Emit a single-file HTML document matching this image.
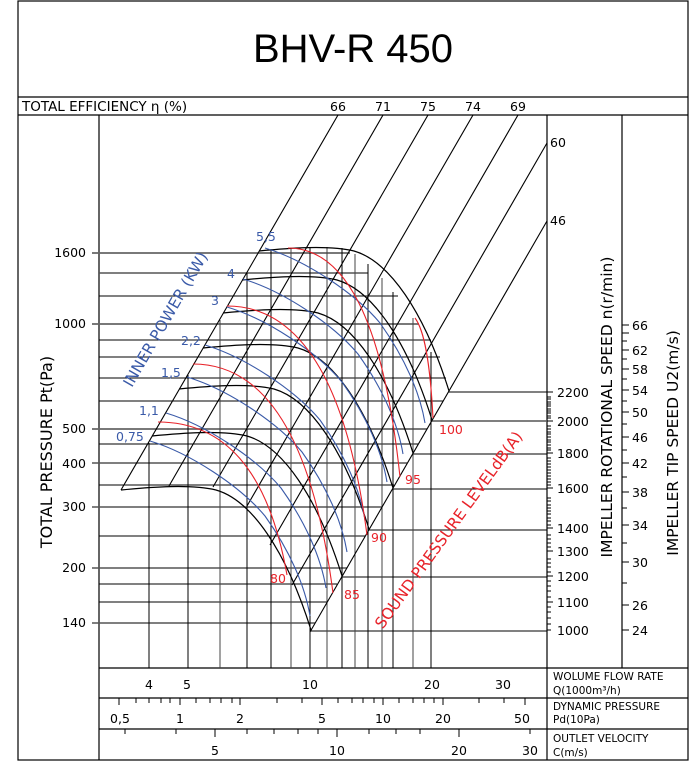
<!DOCTYPE html>
<html><head><meta charset="utf-8"><style>
html,body{margin:0;padding:0;background:#fff}
svg{display:block}
text{font-family:"DejaVu Sans","Liberation Sans",sans-serif}
</style></head><body>
<svg width="691" height="768" viewBox="0 0 691 768" xmlns="http://www.w3.org/2000/svg">
<defs>
<path id="bk" d="M0,0 C30,-3 70,-6 95,0 C130,10 165,60 190,140" fill="none" stroke="#000" stroke-width="1.2"/>
<path id="bl" d="M0,0 C40,12 90,45 115,75 C140,110 155,145 160,175" fill="none" stroke="#3a5aa8" stroke-width="1.1"/>
</defs>
<g stroke="#000" fill="none" stroke-width="1.2">
<rect x="18" y="1" width="670" height="759"/>
<line x1="18" y1="97" x2="688" y2="97"/>
<line x1="18" y1="115" x2="688" y2="115"/>
<line x1="99" y1="115" x2="99" y2="760"/>
<line x1="547" y1="115" x2="547" y2="760"/>
<line x1="622" y1="115" x2="622" y2="668"/>
<line x1="99" y1="668" x2="688" y2="668"/>
<line x1="99" y1="698" x2="688" y2="698"/>
<line x1="99" y1="729" x2="688" y2="729"/>
</g>
<text x="353" y="62" font-size="40" text-anchor="middle" style="font-family:'Liberation Sans',sans-serif">BHV-R 450</text>
<text x="22" y="111" font-size="13.5">TOTAL EFFICIENCY η (%)</text>
<g font-size="12.5" text-anchor="middle">
<text x="338" y="111">66</text><text x="383" y="111">71</text><text x="428" y="111">75</text><text x="473" y="111">74</text><text x="518" y="111">69</text>
</g>
<text x="550" y="147" font-size="12.5">60</text>
<text x="550" y="225" font-size="12.5">46</text>

<g stroke="#000" stroke-width="1">
<line x1="92" y1="253" x2="350" y2="253" stroke="#666" stroke-width="1.8"/>
<line x1="99" y1="273" x2="368" y2="273" stroke="#555" stroke-width="1.5"/>
<line x1="99" y1="296" x2="398" y2="296"/>
<line x1="92" y1="324" x2="419" y2="324" stroke="#666" stroke-width="1.8"/>
<line x1="99" y1="340" x2="431" y2="340"/>
<line x1="99" y1="357" x2="440" y2="357"/>
<line x1="99" y1="378" x2="446" y2="378"/>
<line x1="99" y1="401" x2="443" y2="401"/>
<line x1="92" y1="429" x2="427" y2="429" stroke="#666" stroke-width="1.8"/>
<line x1="99" y1="444" x2="418" y2="444"/>
<line x1="92" y1="463" x2="407" y2="463" stroke="#555" stroke-width="1.5"/>
<line x1="99" y1="485" x2="394" y2="485"/>
<line x1="92" y1="507" x2="382" y2="507" stroke="#555" stroke-width="1.5"/>
<line x1="99" y1="536" x2="365" y2="536"/>
<line x1="92" y1="568" x2="347" y2="568" stroke="#555" stroke-width="1.5"/>
<line x1="99" y1="584" x2="337" y2="584"/>
<line x1="99" y1="602" x2="327" y2="602"/>
<line x1="92" y1="623" x2="315" y2="623" stroke="#555" stroke-width="1.5"/>
<line x1="448" y1="392" x2="547" y2="392"/>
<line x1="431" y1="421" x2="547" y2="421" stroke="#555" stroke-width="1.5"/>
<line x1="412" y1="454" x2="547" y2="454"/>
<line x1="392" y1="489" x2="547" y2="489"/>
<line x1="369" y1="530" x2="547" y2="530"/>
<line x1="341" y1="577" x2="547" y2="577"/>
<line x1="310" y1="631" x2="547" y2="631"/>
</g>
<g stroke="#000" stroke-width="1">
<line x1="149" y1="443" x2="149" y2="668"/>
<line x1="188" y1="375" x2="188" y2="668"/>
<line x1="220" y1="320" x2="220" y2="668" stroke="#444"/>
<line x1="247" y1="273" x2="247" y2="668"/>
<line x1="271" y1="249" x2="271" y2="668"/>
<line x1="291" y1="248" x2="291" y2="668" stroke="#444"/>
<line x1="310" y1="247" x2="310" y2="668"/>
<line x1="327" y1="247" x2="327" y2="668" stroke="#444"/>
<line x1="342" y1="248" x2="342" y2="668"/>
<line x1="355" y1="254" x2="355" y2="668" stroke="#444"/>
<line x1="368" y1="264" x2="368" y2="668"/>
<line x1="382" y1="278" x2="382" y2="668" stroke="#444"/>
<line x1="393" y1="292" x2="393" y2="668"/>
<line x1="413" y1="318" x2="413" y2="668" stroke="#444"/>
<line x1="431" y1="352" x2="431" y2="668"/>
</g>
<g stroke="#000" stroke-width="1.1">
<line x1="338" y1="115" x2="121" y2="490"/>
<line x1="383" y1="115" x2="169" y2="486"/>
<line x1="428" y1="115" x2="213" y2="487"/>
<line x1="473" y1="115" x2="247" y2="506"/>
<line x1="518" y1="115" x2="270" y2="545"/>
<line x1="547" y1="143" x2="292" y2="585"/>
<line x1="547" y1="221" x2="310" y2="632"/>
</g>
<use href="#bk" transform="translate(121,490)"/>
<use href="#bk" transform="translate(152,436)"/>
<use href="#bk" transform="translate(179,389)"/>
<use href="#bk" transform="translate(203,348)"/>
<use href="#bk" transform="translate(223,313)"/>
<use href="#bk" transform="translate(242,280)"/>
<use href="#bk" transform="translate(259,251)"/>
<use href="#bl" transform="translate(150,441)"/>
<use href="#bl" transform="translate(166,413)"/>
<use href="#bl" transform="translate(187,377)"/>
<use href="#bl" transform="translate(205,345)"/>
<use href="#bl" transform="translate(227,307)"/>
<use href="#bl" transform="translate(243,279)"/>
<use href="#bl" transform="translate(265,248)"/>
<g fill="none" stroke="#e8232a" stroke-width="1.1">
<path d="M158,422 C223,422 268,468 287,575"/>
<path d="M193,364 C263,364 312,433 333,593"/>
<path d="M227,306 C297,306 346,375 367,535"/>
<path d="M288,248 C344,248 383,317 400,477"/>
<path d="M415,318 C424,330 430,360 433,418"/>
</g>
<g fill="#e8232a" font-size="12.5">
<text x="270" y="583">80</text><text x="344" y="599">85</text><text x="371" y="542">90</text><text x="405" y="484">95</text><text x="439" y="434">100</text>
</g>
<text x="453" y="533" font-size="15.5" fill="#e8232a" text-anchor="middle" transform="rotate(-54 453 533)">SOUND PRESSURE LEVELdB(A)</text>
<g fill="#3a5aa8" font-size="12.5">
<text x="256" y="241">5,5</text><text x="227" y="278">4</text><text x="211" y="305">3</text><text x="181" y="345">2,2</text><text x="161" y="377">1,5</text><text x="139" y="415">1,1</text><text x="116" y="441">0,75</text>
</g>
<text x="170" y="322" font-size="15.5" fill="#3a5aa8" text-anchor="middle" transform="rotate(-60 170 322)">INNER POWER (KW)</text>

<g font-size="12.5" text-anchor="end">
<text x="86" y="257">1600</text><text x="86" y="328">1000</text><text x="86" y="433">500</text><text x="86" y="468">400</text><text x="86" y="511">300</text><text x="86" y="572">200</text><text x="86" y="627">140</text>
</g>
<text x="52" y="452" font-size="16" text-anchor="middle" transform="rotate(-90 52 452)">TOTAL PRESSURE Pt(Pa)</text>
<text x="612" y="407" font-size="15.5" text-anchor="middle" transform="rotate(-90 612 407)">IMPELLER ROTATIONAL SPEED n(r/min)</text>
<text x="678" y="443" font-size="15.5" text-anchor="middle" transform="rotate(-90 678 443)">IMPELLER TIP SPEED U2(m/s)</text>

<g stroke="#000" stroke-width="1">
<path d="M547,630h4M547,624h4M547,618h4M547,612h4M547,607h4M547,602h6M547,597h4M547,591h4M547,586h4M547,581h4M547,576h6M547,572h4M547,567h4M547,563h4M547,559h4M547,551h6M547,547h4M547,543h4M547,539h4M547,535h4M547,528h6M547,525h4M547,521h4M547,518h4M547,514h4M547,511h4M547,508h4M547,505h4M547,501h4M547,498h4M547,488h6M547,485h4M547,482h4M547,479h4M547,476h4M547,473h4M547,470h4M547,467h4M547,464h4M547,461h4M547,458h4M547,453h6M547,450h4M547,448h4M547,445h4M547,442h4M547,440h4M547,437h4M547,434h4M547,432h4M547,429h4M547,426h4M547,421h6M547,418h4M547,416h4M547,413h4M547,411h4M547,409h4M547,406h4M547,404h4M547,402h4M547,399h4M547,397h4M547,392h6"/>
</g>
<g font-size="12.5">
<text x="557" y="397">2200</text><text x="557" y="426">2000</text><text x="557" y="458">1800</text><text x="557" y="493">1600</text><text x="557" y="533">1400</text><text x="557" y="556">1300</text><text x="557" y="581">1200</text><text x="557" y="607">1100</text><text x="557" y="635">1000</text>
</g>
<g stroke="#000" stroke-width="1">
<path d="M622,630h7M622,605h7M622,583h5M622,562h7M622,543h5M622,525h7M622,508h5M622,492h7M622,477h5M622,463h7M622,450h5M622,437h7M622,424h5M622,412h7M622,401h5M622,390h7M622,379h5M622,369h7M622,359h5M622,350h7M622,341h5M622,333h7M622,325h7"/>
</g>
<g font-size="12.5">
<text x="632" y="635">24</text><text x="632" y="610">26</text><text x="632" y="567">30</text><text x="632" y="530">34</text><text x="632" y="497">38</text><text x="632" y="468">42</text><text x="632" y="442">46</text><text x="632" y="417">50</text><text x="632" y="395">54</text><text x="632" y="374">58</text><text x="632" y="355">62</text><text x="632" y="330">66</text>
</g>

<g font-size="12.5" text-anchor="middle">
<text x="149" y="689">4</text><text x="187" y="689">5</text><text x="310" y="689">10</text><text x="432" y="689">20</text><text x="503" y="689">30</text>
</g>
<g stroke="#000" stroke-width="1">
<path d="M119,698v7M136,698v5M149,698v5M161,698v5M170,698v5M180,698v7M196,698v5M210,698v5M221,698v5M232,698v5M240,698v7M277,698v5M302,698v5M322,698v7M338,698v5M352,698v5M363,698v5M374,698v5M383,698v7M399,698v5M413,698v5M424,698v5M434,698v5M443,698v7M479,698v5M504,698v5M525,698v7"/>
<path d="M125,729v5M176,729v5M215,729v8M247,729v5M274,729v5M298,729v5M318,729v5M337,729v8M369,729v5M396,729v5M420,729v5M459,729v8M530,729v5"/>
</g>
<g font-size="12.5" text-anchor="middle">
<text x="120" y="723">0,5</text><text x="180" y="723">1</text><text x="240" y="723">2</text><text x="322" y="723">5</text><text x="383" y="723">10</text><text x="443" y="723">20</text><text x="522" y="723">50</text>
<text x="215" y="755">5</text><text x="337" y="755">10</text><text x="459" y="755">20</text><text x="530" y="755">30</text>
</g>
<g font-size="10.5">
<text x="553" y="680">WOLUME FLOW RATE</text><text x="553" y="694">Q(1000m³/h)</text>
<text x="553" y="710">DYNAMIC PRESSURE</text><text x="553" y="723">Pd(10Pa)</text>
<text x="553" y="742">OUTLET VELOCITY</text><text x="553" y="756">C(m/s)</text>
</g>
</svg>
</body></html>
